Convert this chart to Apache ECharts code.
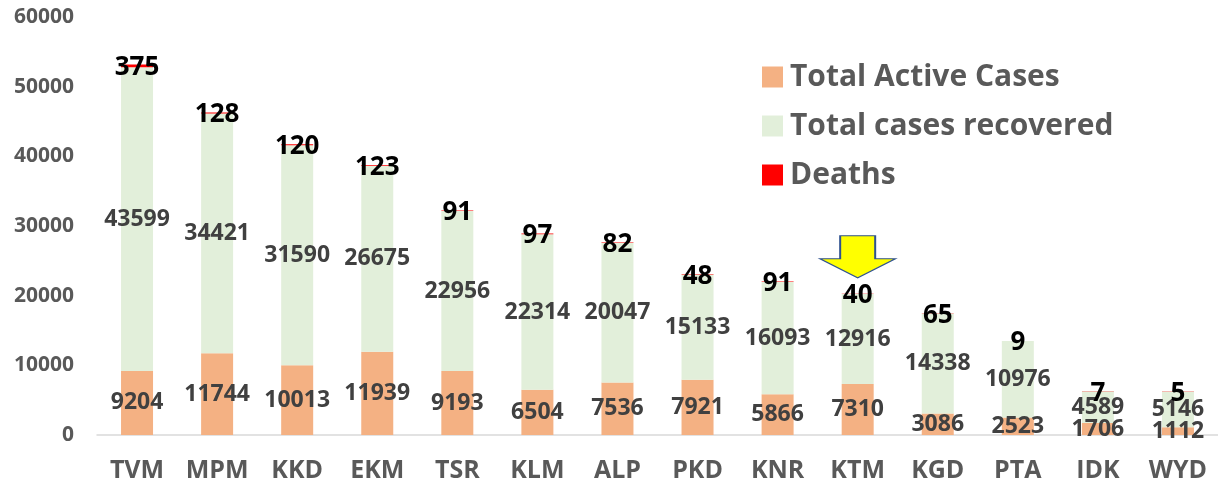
<!DOCTYPE html>
<html>
<head>
<meta charset="utf-8">
<script src="https://cdn.jsdelivr.net/npm/echarts@6/dist/echarts.min.js"></script>
<style>html,body{margin:0;padding:0;background:#fff;}#c{width:1218px;height:488px;}</style>
</head>
<body>
<div id="c"></div>
<script>
var categories = ['TVM','MPM','KKD','EKM','TSR','KLM','ALP','PKD','KNR','KTM','KGD','PTA','IDK','WYD'];
var activeCases = [9204,11744,10013,11939,9193,6504,7536,7921,5866,7310,3086,2523,1706,1112];
var recovered = [43599,34421,31590,26675,22956,22314,20047,15133,16093,12916,14338,10976,4589,5146];
var deaths = [375,128,120,123,91,97,82,48,91,40,65,9,7,5];
var yTicks = [0,10000,20000,30000,40000,50000,60000];
var highlightIndex = 9;

var FONT = 'Open Sans';
var chart = echarts.init(document.getElementById('c'), null, {renderer:'canvas'});
var valLabel = {show:true, position:'inside', fontFamily:FONT, fontWeight:'bold', fontSize:23, color:'#404040'};
var arrowTotal = activeCases[highlightIndex] + recovered[highlightIndex] + deaths[highlightIndex];

chart.setOption({
  animation:false,
  backgroundColor:'#ffffff',
  grid:{left:97, top:17, width:1126, bottom:53, containLabel:false},
  legend:{
    orient:'vertical', left:757, top:57, itemWidth:21, itemHeight:21, itemGap:19,
    icon:'rect',
    textStyle:{fontFamily:FONT, fontWeight:'bold', fontSize:30, color:'#595959', padding:[0,0,0,2]},
    data:['Total Active Cases','Total cases recovered','Deaths']
  },
  xAxis:{
    type:'category', data:categories,
    axisLine:{show:true, lineStyle:{color:'#D9D9D9', width:1.5}},
    axisTick:{show:false},
    axisLabel:{interval:0, fontFamily:FONT, fontWeight:'bold', fontSize:25, color:'#595959', margin:23}
  },
  yAxis:{
    type:'value', min:yTicks[0], max:yTicks[yTicks.length-1], interval:yTicks[1]-yTicks[0],
    axisLine:{show:false}, axisTick:{show:false}, splitLine:{show:false},
    axisLabel:{fontFamily:FONT, fontWeight:'bold', fontSize:21, color:'#595959', margin:23,
      formatter:function(v){return String(v);}}
  },
  series:[
    {name:'Total Active Cases', type:'bar', stack:'s', data:activeCases, barWidth:32,
     itemStyle:{color:'#F4B183'}, label:valLabel},
    {name:'Total cases recovered', type:'bar', stack:'s', data:recovered, barWidth:32,
     itemStyle:{color:'#E2EFDA'}, label:valLabel},
    {name:'Deaths', type:'bar', stack:'s', data:deaths, barWidth:32,
     itemStyle:{color:'#FF0000'},
     label:{show:true, position:'inside', fontFamily:FONT, fontWeight:'bold', fontSize:26, color:'#000000', offset:[0,2]},
     markPoint:{
       symbol:'path://M20,0 L55,0 L55,23 L75,23 L37.5,42 L0,23 L20,23 Z',
       symbolSize:[75,42], symbolKeepAspect:false, symbolOffset:[0,-37],
       itemStyle:{color:'#FFFF00', borderColor:'#2F528F', borderWidth:1.5},
       label:{show:false},
       data:[{coord:[highlightIndex, arrowTotal]}]
     }}
  ]
});
</script>
</body>
</html>
